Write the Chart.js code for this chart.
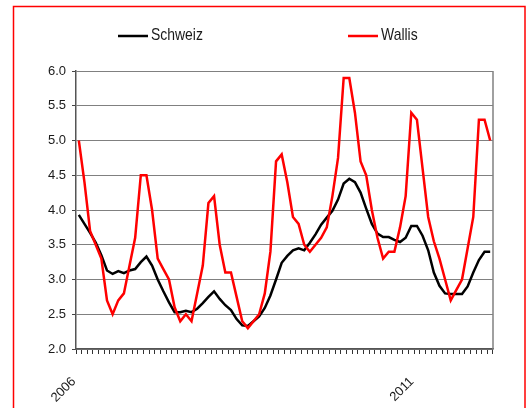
<!DOCTYPE html>
<html>
<head>
<meta charset="utf-8">
<script src="https://cdn.jsdelivr.net/npm/chart.js@4.4.0/dist/chart.umd.min.js"></script>
<style>
  html, body { margin: 0; padding: 0; background: #fff; }
</style>
</head>
<body>
<canvas id="chart" width="528" height="408"></canvas>
<script>
// monthly values, Jan 2006 .. Feb 2012
const years = ['2006', '2007', '2008', '2009', '2010', '2011', '2012']
const monthNums = ['01', '02', '03', '04', '05', '06', '07', '08', '09', '10', '11', '12']
const months = []
years.forEach(y => monthNums.forEach(m => months.push(y + '-' + m)))
months.length = 74

const yearTicks = ['2006', '2011']

const schweiz = [
    3.93, 3.8, 3.67, 3.53, 3.35, 3.13, 3.08, 3.12, 3.09, 3.13,
    3.15, 3.25, 3.33, 3.2, 3.0, 2.83, 2.67, 2.53, 2.53, 2.55,
    2.53, 2.58, 2.66, 2.75, 2.83, 2.72, 2.63, 2.56, 2.43, 2.34,
    2.33, 2.4, 2.47, 2.59, 2.77, 3.0, 3.24, 3.34, 3.42, 3.45,
    3.42, 3.53, 3.65, 3.79, 3.89, 3.99, 4.15, 4.38, 4.45, 4.4,
    4.25, 4.02, 3.8, 3.66, 3.61, 3.61, 3.57, 3.54, 3.6, 3.77,
    3.77, 3.63, 3.42, 3.1, 2.91, 2.8, 2.79, 2.79, 2.79, 2.9,
    3.1, 3.28, 3.4, 3.4
]
const wallis = [
    5.0, 4.4, 3.7, 3.5, 3.3, 2.7, 2.5, 2.7, 2.8, 3.2,
    3.6, 4.5, 4.5, 4.0, 3.3, 3.15, 3.0, 2.6, 2.4, 2.5,
    2.4, 2.8, 3.2, 4.1, 4.2, 3.5, 3.1, 3.1, 2.75, 2.4,
    2.3, 2.4, 2.5, 2.8, 3.4, 4.7, 4.8, 4.4, 3.9, 3.8,
    3.5, 3.4, 3.5, 3.6, 3.75, 4.2, 4.75, 5.9, 5.9, 5.4,
    4.7, 4.5, 4.0, 3.6, 3.3, 3.4, 3.4, 3.75, 4.2, 5.4,
    5.3, 4.6, 3.9, 3.55, 3.3, 3.0, 2.7, 2.85, 3.0, 3.45,
    3.9, 5.3, 5.3, 5.0
]

const tickFont = {family: "'Liberation Sans', Arial, sans-serif", size: 13}
const legendFont = "17px 'Liberation Sans', Arial, sans-serif"

// red frame, right edge of plot area, legend at top
const framePlugin = {
    id: 'frame',
    beforeDraw(chart) {
        const c = chart.ctx
        c.save()
        c.fillStyle = '#fff'
        c.fillRect(0, 0, chart.width, chart.height)
        c.restore()
    },
    afterDraw(chart) {
        const c = chart.ctx
        const a = chart.chartArea
        c.save()
        c.strokeStyle = '#808080'
        c.lineWidth = 1.5
        c.beginPath()
        c.moveTo(a.right, a.top)
        c.lineTo(a.right, a.bottom)
        c.stroke()

        c.strokeStyle = '#ff0000'
        c.lineWidth = 1.5
        c.strokeRect(13.5, 6.5, 511.5, 430)

        const pos = [118, 348]
        c.font = legendFont
        c.textBaseline = 'alphabetic'
        chart.data.datasets.forEach((ds, i) => {
            c.strokeStyle = ds.borderColor
            c.lineWidth = 2.5
            c.beginPath()
            c.moveTo(pos[i], 36)
            c.lineTo(pos[i] + 30, 36)
            c.stroke()
            // narrow face: squeeze the text horizontally
            c.save()
            c.translate(pos[i] + 33, 40)
            c.scale(0.82, 1)
            c.fillStyle = '#1a1a1a'
            c.fillText(ds.label, 0, 0)
            c.restore()
        })
        c.restore()
    }
}

new Chart(document.getElementById('chart'), {
    type: 'line',
    data: {
        labels: months,
        datasets: [{
            label: 'Schweiz',
            data: schweiz,
            borderColor: '#000000',
            borderWidth: 2.5,
            pointRadius: 0,
            tension: 0,
            order: 2
        }, {
            label: 'Wallis',
            data: wallis,
            borderColor: '#ff0000',
            borderWidth: 2.5,
            pointRadius: 0,
            tension: 0,
            order: 1
        }]
    },
    options: {
        responsive: false,
        animation: false,
        layout: {padding: {left: 0, right: 35, top: 71, bottom: 0}},
        plugins: {legend: {display: false}, tooltip: {enabled: false}},
        scales: {
            x: {
                offset: true,
                grid: {offset: true, drawOnChartArea: false, tickLength: 5, color: '#333', tickColor: '#333'},
                border: {color: '#555', width: 1.5},
                ticks: {
                    autoSkip: false,
                    minRotation: 45,
                    maxRotation: 45,
                    padding: 20,
                    labelOffset: -5,
                    color: '#1a1a1a',
                    font: tickFont,
                    callback: function (value, index) {
                        const label = months[index]
                        const year = label.slice(0, 4)
                        return label.endsWith('-01') && yearTicks.includes(year) ? year : ''
                    }
                },
                afterFit: s => { s.height = 59 }
            },
            y: {
                min: 2,
                max: 6,
                grid: {color: '#808080', tickLength: 4, tickColor: '#444'},
                border: {color: '#555', width: 1.5},
                ticks: {
                    stepSize: 0.5,
                    padding: 6,
                    color: '#1a1a1a',
                    font: tickFont,
                    callback: v => v.toFixed(1)
                },
                afterFit: s => { s.width = 76 }
            }
        }
    },
    plugins: [framePlugin]
})
</script>
</body>
</html>
